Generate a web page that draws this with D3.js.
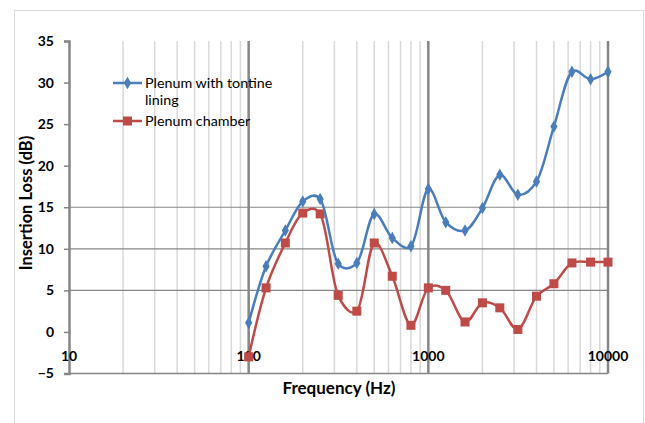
<!DOCTYPE html>
<html lang="en">
<head>
<meta charset="utf-8">
<title>Insertion loss</title>
<style>
  body { margin: 0; background: #fff; }
  text { font-family: Lato, "Open Sans", sans-serif; fill: #000; }
</style>
</head>
<body>
<svg width="645" height="423"></svg>
<script src="https://d3js.org/d3.v7.min.js"></script>
<script>

// data
var freqs = [100, 125, 160, 200, 250, 315, 400, 500, 630, 800, 1000,
             1250, 1600, 2000, 2500, 3150, 4000, 5000, 6300, 8000, 10000];
var tontine = [1.1, 7.9, 12.2, 15.7, 16.0, 8.2, 8.3, 14.2, 11.3, 10.3, 17.2,
               13.2, 12.2, 14.9, 18.9, 16.5, 18.1, 24.7, 31.3, 30.4, 31.3];
var chamber = [-3.0, 5.3, 10.7, 14.3, 14.2, 4.4, 2.5, 10.7, 6.7, 0.8, 5.3,
               5.0, 1.2, 3.5, 2.9, 0.3, 4.3, 5.8, 8.3, 8.4, 8.4];
var yTicks = [-5, 0, 5, 10, 15, 20, 25, 30, 35];
var yGrid = [5, 10, 15];
var xMajor = [10, 100, 1000, 10000];

var svg = d3.select("svg");

var x = d3.scaleLog().domain([10, 10000]).range([69, 608]);
var y = d3.scaleLinear().domain([-5, 35]).range([373.5, 41]);

// chart frame
svg.append("rect")
    .attr("x", 14.5).attr("y", 10.5)
    .attr("width", 629).attr("height", 430)
    .attr("fill", "none")
    .attr("stroke", "#d9d9d9");

// minor vertical grid
var minor = [];
[10, 100, 1000].forEach(function(d) {
  for (var k = 2; k <= 9; k++) minor.push(d * k);
});
svg.append("g").selectAll("line")
    .data(minor)
  .enter().append("line")
    .attr("x1", function(d) { return x(d); })
    .attr("x2", function(d) { return x(d); })
    .attr("y1", y(35)).attr("y2", y(-5))
    .attr("stroke", "#d9d9d9")
    .attr("stroke-width", 1.5);

// horizontal grid
svg.append("g").selectAll("line")
    .data(yGrid)
  .enter().append("line")
    .attr("x1", x(10)).attr("x2", x(10000))
    .attr("y1", function(d) { return y(d); })
    .attr("y2", function(d) { return y(d); })
    .attr("stroke", "#868686")
    .attr("stroke-width", 1.2);

// major vertical grid
svg.append("g").selectAll("line")
    .data(xMajor.slice(1))
  .enter().append("line")
    .attr("x1", function(d) { return x(d); })
    .attr("x2", function(d) { return x(d); })
    .attr("y1", y(35)).attr("y2", y(-5))
    .attr("stroke", "#868686")
    .attr("stroke-width", 2.5);

// y axis
var yAxis = svg.append("g")
    .attr("transform", "translate(" + x(10) + ",0)")
    .call(d3.axisLeft(y).tickValues(yTicks).tickSize(5).tickPadding(10));
yAxis.select(".domain").attr("stroke", "#868686").attr("stroke-width", 2.5);
yAxis.selectAll(".tick line").attr("stroke", "#868686").attr("stroke-width", 1.5);
yAxis.selectAll("text")
    .attr("font-family", "Lato, sans-serif")
    .attr("font-size", 14).attr("font-weight", "bold")
    .attr("fill", "#000");

// bottom axis line at -5
svg.append("line")
    .attr("x1", x(10)).attr("x2", x(10000))
    .attr("y1", y(-5)).attr("y2", y(-5))
    .attr("stroke", "#868686").attr("stroke-width", 1.5);

// x tick labels (sit above the -5 line)
svg.append("g").selectAll("text")
    .data(xMajor)
  .enter().append("text")
    .attr("x", function(d) { return x(d); })
    .attr("y", 361)
    .attr("text-anchor", "middle")
    .attr("font-size", 14).attr("font-weight", "bold")
    .text(function(d) { return d; });

// axis titles
svg.append("text")
    .attr("x", 339).attr("y", 394)
    .attr("text-anchor", "middle")
    .attr("font-size", 17).attr("font-weight", "bold")
    .text("Frequency (Hz)");

svg.append("text")
    .attr("transform", "translate(32,203) rotate(-90)")
    .attr("text-anchor", "middle")
    .attr("font-size", 16.5).attr("font-weight", "bold")
    .text("Insertion Loss (dB)");

// series
var blue = "#4a7ebb", red = "#be4b48";

var line = d3.line()
    .x(function(d) { return x(d[0]); })
    .y(function(d) { return y(d[1]); })
    .curve(d3.curveCatmullRom.alpha(0.2));

var s1 = d3.zip(freqs, tontine);
var s2 = d3.zip(freqs, chamber);

svg.append("path")
    .datum(s2)
    .attr("d", line)
    .attr("fill", "none")
    .attr("stroke", red)
    .attr("stroke-width", 2.5);

svg.append("g").selectAll("rect")
    .data(s2)
  .enter().append("rect")
    .attr("x", function(d) { return x(d[0]) - 4.5; })
    .attr("y", function(d) { return y(d[1]) - 4.5; })
    .attr("width", 9).attr("height", 9)
    .attr("fill", red);

svg.append("path")
    .datum(s1)
    .attr("d", line)
    .attr("fill", "none")
    .attr("stroke", blue)
    .attr("stroke-width", 2.5);

var diamond = d3.symbol().type(d3.symbolDiamond).size(45);
svg.append("g").selectAll("path")
    .data(s1)
  .enter().append("path")
    .attr("transform", function(d) { return "translate(" + x(d[0]) + "," + y(d[1]) + ")"; })
    .attr("d", diamond)
    .attr("fill", blue);

// legend
var leg = svg.append("g");
leg.append("line")
    .attr("x1", 113).attr("x2", 142).attr("y1", 83).attr("y2", 83)
    .attr("stroke", blue).attr("stroke-width", 2.5);
leg.append("path")
    .attr("transform", "translate(127.5,83)")
    .attr("d", diamond).attr("fill", blue);
leg.append("text")
    .attr("x", 145).attr("y", 88)
    .attr("font-size", 14.3)
    .text("Plenum with tontine");
leg.append("text")
    .attr("x", 145).attr("y", 105)
    .attr("font-size", 14.3)
    .text("lining");
leg.append("line")
    .attr("x1", 113).attr("x2", 142).attr("y1", 121).attr("y2", 121)
    .attr("stroke", red).attr("stroke-width", 2.5);
leg.append("rect")
    .attr("x", 123).attr("y", 116.5).attr("width", 9).attr("height", 9)
    .attr("fill", red);
leg.append("text")
    .attr("x", 145).attr("y", 126)
    .attr("font-size", 14.3)
    .text("Plenum chamber");

</script>
</body>
</html>
